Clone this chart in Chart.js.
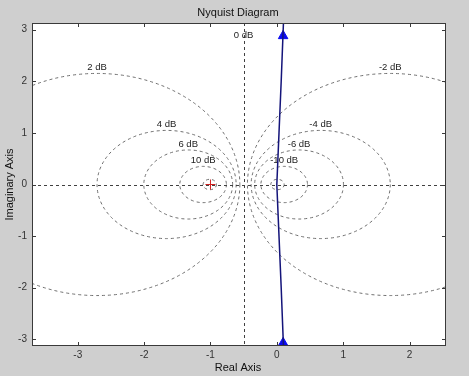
<!DOCTYPE html>
<html>
<head>
<meta charset="utf-8">
<script src="https://cdn.jsdelivr.net/npm/chart.js@4.4.0/dist/chart.umd.min.js"></script>
<style>
  html, body { margin: 0; padding: 0; background: #cfcfcf; }
  #wrap { width: 469px; height: 376px; }
</style>
</head>
<body>
<div id="wrap"><canvas id="nyq" width="469" height="376"></canvas></div>
<script>
// Nyquist plot with M-circle grid (MATLAB look)

const xTicks = [-3, -2, -1, 0, 1, 2];
const yTicks = [-3, -2, -1, 0, 1, 2, 3];

// M-circles (dB) and which of them get a label
const dbLevels   = [-20, -10, -6, -4, -2, 2, 4, 6, 10, 20];
const dbLabelled = [-10, -6, -4, -2, 2, 4, 6, 10];

// nyquist curve
const nyqRe = [0.108, 0.066, 0.033, 0, 0.033, 0.066, 0.108];
const nyqIm = [3.4, 2, 1, 0, -1, -2, -3.4];

// direction arrows
const arrowRe = [0.095, 0.095];
const arrowIm = [2.88, -3.07];

// critical point
const critRe = [-1];
const critIm = [0];

const FONT = "'Liberation Sans', Arial, sans-serif";
const GRID_COLOR = "#707070";

function toPoints(xs, ys) {
  return xs.map((x, i) => ({ x, y: ys[i] }));
}

function mCircle(db) {
  const M  = Math.pow(10, db / 20);
  const M2 = M * M;
  return { c: -M2 / (M2 - 1), r: Math.abs(M / (M2 - 1)) };
}

const gridPlugin = {
  id: "mGrid",
  beforeDraw(chart) {
    const { ctx, chartArea: a } = chart;
    ctx.save();
    ctx.fillStyle = "#ffffff";
    ctx.fillRect(a.left, a.top, a.right - a.left, a.bottom - a.top);
    ctx.restore();
  },

  beforeDatasetsDraw(chart) {
    const { ctx, chartArea: a, scales } = chart;
    const sx = scales.x, sy = scales.y;

    ctx.save();
    ctx.beginPath();
    ctx.rect(a.left, a.top, a.right - a.left, a.bottom - a.top);
    ctx.clip();

    ctx.strokeStyle = GRID_COLOR;
    ctx.lineWidth   = 1;
    ctx.setLineDash([3, 3]);

    dbLevels.forEach(db => {
      const { c, r } = mCircle(db);
      const cx = sx.getPixelForValue(c);
      const cy = sy.getPixelForValue(0);
      const rx = Math.abs(sx.getPixelForValue(c + r) - cx);
      const ry = Math.abs(sy.getPixelForValue(r) - cy);
      ctx.beginPath();
      ctx.ellipse(cx, cy, rx, ry, 0, 0, Math.PI * 2);
      ctx.stroke();
    });

    // 0 dB line and real axis
    ctx.strokeStyle = "#404040";
    const x0 = Math.round(sx.getPixelForValue(-0.5)) + 0.5;
    const y0 = Math.round(sy.getPixelForValue(0)) + 0.5;
    ctx.beginPath();
    ctx.moveTo(x0, a.top);
    ctx.lineTo(x0, a.bottom);
    ctx.moveTo(a.left, y0);
    ctx.lineTo(a.right, y0);
    ctx.stroke();
    ctx.setLineDash([]);

    // labels
    ctx.fillStyle    = "#222";
    ctx.font         = "9.5px " + FONT;
    ctx.textAlign    = "center";
    ctx.textBaseline = "middle";
    dbLabelled.forEach(db => {
      const { c, r } = mCircle(db);
      ctx.fillText(db + " dB", sx.getPixelForValue(c), sy.getPixelForValue(r) - 6);
    });
    ctx.fillText("0 dB", sx.getPixelForValue(-0.5), a.top + 12);

    ctx.restore();
  },

  afterDraw(chart) {
    const { ctx, chartArea: a, scales } = chart;
    const sx = scales.x, sy = scales.y;
    const TL = 4;

    ctx.save();
    ctx.strokeStyle = "#3a3a3a";
    ctx.lineWidth   = 1;
    ctx.strokeRect(a.left + 0.5, a.top + 0.5, a.right - a.left - 1, a.bottom - a.top - 1);

    ctx.beginPath();
    xTicks.forEach(v => {
      const x = Math.round(sx.getPixelForValue(v)) + 0.5;
      ctx.moveTo(x, a.bottom); ctx.lineTo(x, a.bottom - TL);
      ctx.moveTo(x, a.top);    ctx.lineTo(x, a.top + TL);
    });
    yTicks.forEach(v => {
      const y = Math.round(sy.getPixelForValue(v)) + 0.5;
      ctx.moveTo(a.left, y);  ctx.lineTo(a.left + TL, y);
      ctx.moveTo(a.right, y); ctx.lineTo(a.right - TL, y);
    });
    ctx.stroke();

    // titles
    const mid = (a.left + a.right) / 2;
    ctx.fillStyle    = "#111";
    ctx.font         = "11px " + FONT;
    ctx.textAlign    = "center";
    ctx.textBaseline = "middle";
    ctx.fillText("Nyquist Diagram", mid - 1, 13);
    ctx.fillText("Real Axis", mid - 1, 368);

    ctx.translate(10, (a.top + a.bottom) / 2);
    ctx.rotate(-Math.PI / 2);
    ctx.fillText("Imaginary Axis", 0, 0);
    ctx.restore();
  }
};

const tickFont = { family: FONT, size: 10 };

new Chart(document.getElementById("nyq"), {
  type: "scatter",
  data: {
    datasets: [
      {
        data: toPoints(nyqRe, nyqIm),
        showLine: true,
        borderColor: "#14147a",
        borderWidth: 1.5,
        pointRadius: 0,
        tension: 0
      },
      {
        data: toPoints(arrowRe, arrowIm),
        pointStyle: "triangle",
        pointRadius: 5.5,
        backgroundColor: "#0a0af0",
        borderColor: "#0a0af0",
        borderWidth: 1
      },
      {
        data: toPoints(critRe, critIm),
        pointStyle: "cross",
        pointRadius: 5,
        borderColor: "#d02020",
        borderWidth: 1
      }
    ]
  },
  plugins: [gridPlugin],
  options: {
    responsive: false,
    animation: false,
    events: [],
    layout: { padding: { top: 23, right: 23, left: 0, bottom: 0 } },
    scales: {
      x: {
        type: "linear",
        min: -3.69,
        max: 2.55,
        afterBuildTicks: s => { s.ticks = xTicks.map(v => ({ value: v })); },
        afterFit: s => { s.height = 30; },
        grid: { display: false, drawTicks: false },
        border: { display: false },
        ticks: { padding: 3, color: "#333", font: tickFont, maxRotation: 0 }
      },
      y: {
        type: "linear",
        min: -3.13,
        max: 3.13,
        afterBuildTicks: s => { s.ticks = yTicks.map(v => ({ value: v })); },
        afterFit: s => { s.width = 32; },
        grid: { display: false, drawTicks: false },
        border: { display: false },
        ticks: { padding: 5, color: "#333", font: tickFont }
      }
    },
    plugins: {
      legend: { display: false },
      title: { display: false },
      tooltip: { enabled: false }
    }
  }
});
</script>
</body>
</html>
